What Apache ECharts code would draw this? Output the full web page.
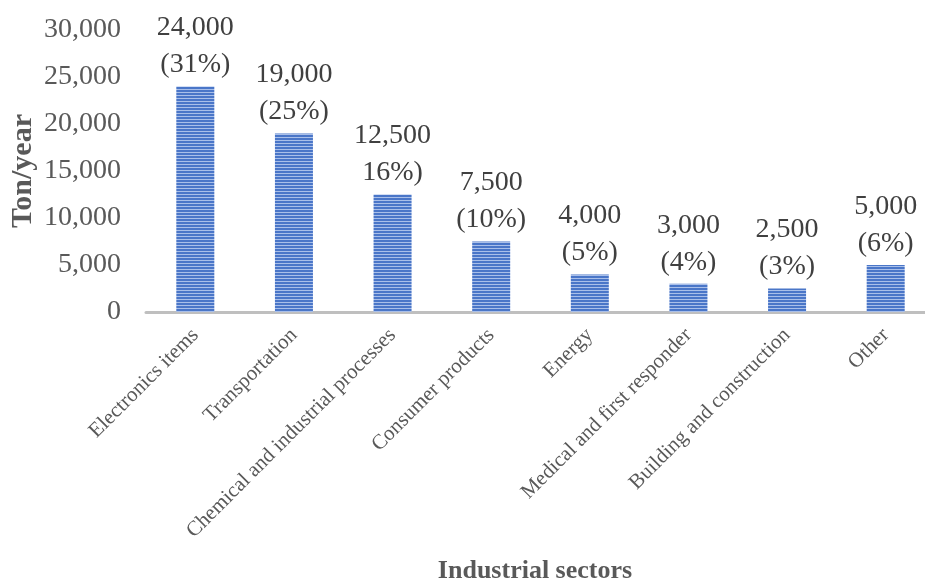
<!DOCTYPE html>
<html><head><meta charset="utf-8">
<script src="https://cdn.jsdelivr.net/npm/echarts@6/dist/echarts.min.js"></script>
<style>html,body{margin:0;padding:0;background:#fff;overflow:hidden}#c{width:925px;height:581px}</style>
</head><body><div id="c"></div>
<script>
const categories = ["Electronics items","Transportation","Chemical and industrial processes","Consumer products","Energy","Medical and first responder","Building and construction","Other"];
const values = [24000,19000,12500,7500,4000,3000,2500,5000];
const shares = ["(31%)","(25%)","16%)","(10%)","(5%)","(4%)","(3%)","(6%)"];
const yTicks = [0,5000,10000,15000,20000,25000,30000];

const pc = document.createElement('canvas');
pc.width = 4; pc.height = 3;
const g = pc.getContext('2d');
g.fillStyle = '#4a76c8'; g.fillRect(0,0,4,3);
g.fillStyle = '#a9bfe9'; g.fillRect(0,2,4,1);

const chart = echarts.init(document.getElementById('c'));
const font = '"Liberation Serif","Times New Roman",serif';
chart.setOption({
  animation:false,
  grid:{left:146,right:-10,top:30,height:282,outerBoundsMode:'none',containLabel:false},
  xAxis:{type:'category',data:categories,
    axisLine:{lineStyle:{color:'#bfbfbf',width:3}},axisTick:{show:false},
    axisLabel:{rotate:45,interval:0,color:'#595959',fontFamily:font,fontSize:21,margin:20},
    name:'Industrial sectors',nameLocation:'middle',nameGap:246,nameMoveOverlap:false,
    nameTextStyle:{color:'#595959',fontFamily:font,fontSize:26,fontWeight:'bold',padding:[0,11,0,0]}},
  yAxis:{type:'value',min:yTicks[0],max:yTicks[yTicks.length-1],interval:5000,
    axisLine:{show:false},axisTick:{show:false},splitLine:{show:false},
    axisLabel:{color:'#595959',fontFamily:font,fontSize:28,margin:25,
      formatter:v=>v.toLocaleString('en-US')},
    name:'Ton/year',nameLocation:'middle',nameGap:108,nameMoveOverlap:false,
    nameTextStyle:{color:'#595959',fontFamily:font,fontSize:30,fontWeight:'bold'}},
  series:[{type:'bar',data:values,barWidth:38,
    itemStyle:{color:{image:pc,repetition:'repeat'}},
    label:{show:true,position:'top',distance:3,color:'#404040',fontFamily:font,fontSize:28,lineHeight:37,
      formatter:p=>p.value.toLocaleString('en-US')+'\n'+shares[p.dataIndex]}}]
});
</script></body></html>
